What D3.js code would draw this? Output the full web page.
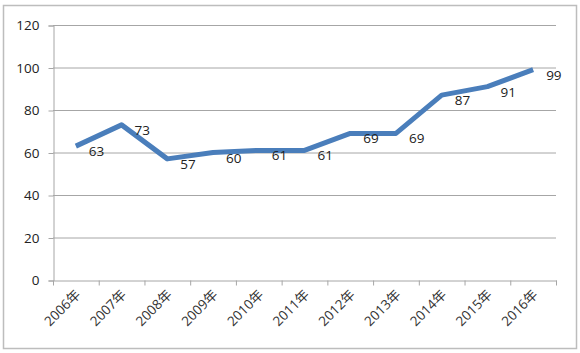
<!DOCTYPE html>
<html><head><meta charset="utf-8">
<script src="https://cdn.jsdelivr.net/npm/d3@7"></script>
<style>body{margin:0;background:#fff}svg{display:block}</style>
</head><body>
<script>
const categories = ["2006年","2007年","2008年","2009年","2010年","2011年","2012年","2013年","2014年","2015年","2016年"];
const values = [63,73,57,60,61,61,69,69,87,91,99];
const yTicks = [0,20,40,60,80,100,120];

const W=580,H=353;
const m={left:53,right:24,top:25,bottom:73};
const svg=d3.select("body").append("svg").attr("width",W).attr("height",H);
const font="'Open Sans','Noto Sans CJK SC',sans-serif";
svg.append("rect").attr("x",3.5).attr("y",5.5).attr("width",573).attr("height",343)
  .attr("fill","#fff").attr("stroke","#bdbdbd").attr("stroke-width",1.5);

const x=d3.scaleBand().domain(categories).range([m.left,W-m.right]);
const y=d3.scaleLinear().domain([0,120]).range([H-m.bottom,m.top]);

// gridlines
svg.append("g").selectAll("line").data(yTicks.filter(d=>d>0)).join("line")
  .attr("x1",m.left).attr("x2",W-m.right).attr("y1",d=>y(d)+0.5).attr("y2",d=>y(d)+0.5)
  .attr("stroke","#a6a6a6").attr("stroke-width",1);

// y axis
const ya=svg.append("g").attr("transform",`translate(${m.left+0.5},0.5)`)
  .call(d3.axisLeft(y).tickValues(yTicks).tickSize(5).tickPadding(9));
ya.select(".domain").attr("stroke","#a6a6a6");
ya.selectAll(".tick line").attr("stroke","#a6a6a6");
ya.selectAll("text").attr("font-family",font).attr("font-size",13.5).attr("fill","#222");

// x axis
const xa=svg.append("g").attr("transform",`translate(0.5,${y(0)+0.5})`)
  .call(d3.axisBottom(x).tickSize(5).tickSizeOuter(0));
xa.select(".domain").attr("stroke","#a6a6a6");
xa.selectAll(".tick line").attr("stroke","#a6a6a6").attr("transform",`translate(${-x.bandwidth()/2},0)`);
// extra boundary tick at right end
xa.append("line").attr("x1",W-m.right).attr("x2",W-m.right).attr("y1",0).attr("y2",5).attr("stroke","#a6a6a6");
xa.selectAll(".tick text").attr("font-family",font).attr("font-size",13.5).attr("fill","#333")
  .attr("text-anchor","end").attr("dy",0).attr("y",0)
  .attr("transform","translate(5,15) rotate(-45)");

// line
const cx=d=>x(d)+x.bandwidth()/2;
svg.append("path").datum(values)
  .attr("d",d3.line().x((d,i)=>cx(categories[i])).y(d=>y(d)))
  .attr("fill","none").attr("stroke","#4a7ebb").attr("stroke-width",5).attr("stroke-linejoin","round");

// labels
svg.append("g").selectAll("text").data(values).join("text")
  .attr("x",(d,i)=>cx(categories[i])+13).attr("y",d=>y(d)+10)
  .attr("font-family",font).attr("font-size",13.5).attr("fill","#222").text(d=>d);
</script>
</body></html>
